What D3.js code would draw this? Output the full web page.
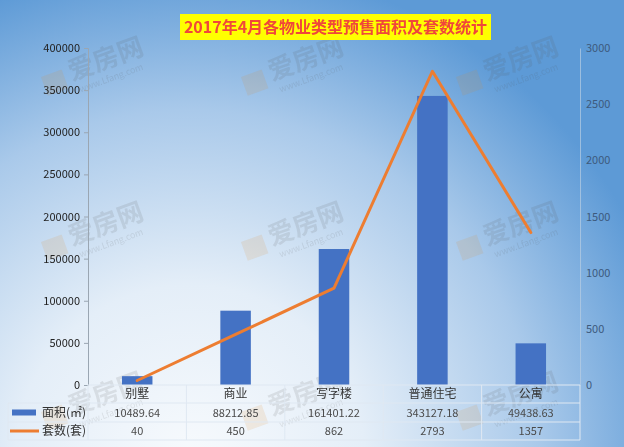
<!DOCTYPE html>
<html><head><meta charset="utf-8">
<script src="https://cdn.jsdelivr.net/npm/d3@7/dist/d3.min.js"></script>
<style>html,body{margin:0;padding:0;overflow:hidden;}svg{display:block;}</style>
</head><body>
<svg id="c" width="624" height="447"></svg>
<script>
const title = "2017年4月各物业类型预售面积及套数统计";
const categories = ["别墅", "商业", "写字楼", "普通住宅", "公寓"];
const areaValues = [10489.64, 88212.85, 161401.22, 343127.18, 49438.63];
const unitValues = [40, 450, 862, 2793, 1357];
const seriesNames = ["面积(㎡)", "套数(套)"];
const leftTicks = [0, 50000, 100000, 150000, 200000, 250000, 300000, 350000, 400000];
const rightTicks = [0, 500, 1000, 1500, 2000, 2500, 3000];

const W = 624, H = 447;
const m = {left: 88, right: 580, top: 48, bottom: 385};
const font = "'Noto Sans CJK SC', 'Microsoft YaHei', sans-serif";
const svg = d3.select("#c");

// background gradient
const defs = svg.append("defs");
const rg = defs.append("radialGradient").attr("id", "bg")
  .attr("gradientUnits", "userSpaceOnUse")
  .attr("cx", 190).attr("cy", 460).attr("r", 500);
rg.append("stop").attr("offset", "0").attr("stop-color", "#f7fafd");
rg.append("stop").attr("offset", "0.35").attr("stop-color", "#e4eef8");
rg.append("stop").attr("offset", "0.7").attr("stop-color", "#a9c9ea");
rg.append("stop").attr("offset", "1").attr("stop-color", "#5d9ad6");
svg.append("rect").attr("width", W).attr("height", H).attr("fill", "url(#bg)");

// watermarks
const wm = svg.append("g").attr("opacity", 0.13);
[[70, 75], [270, 75], [485, 75], [70, 240], [270, 240], [485, 240], [70, 410], [270, 410], [485, 410]].forEach(([x, y]) => {
  const g = wm.append("g").attr("transform", `translate(${x},${y}) rotate(-20)`);
  g.append("rect").attr("x", -28).attr("y", -8).attr("width", 22).attr("height", 20).attr("fill", "#e08a2a");
  g.append("text").attr("x", 0).attr("y", 6).attr("font-family", font).attr("font-size", 26)
    .attr("font-weight", "bold").attr("fill", "#555").text("爱房网");
  g.append("text").attr("x", 4).attr("y", 20).attr("font-family", font).attr("font-size", 9)
    .attr("fill", "#555").text("www.Lfang.com");
});

// scales
const x = d3.scaleBand().domain(categories).range([m.left, m.right]);
const yL = d3.scaleLinear().domain([0, 400000]).range([m.bottom, m.top]);
const yR = d3.scaleLinear().domain([0, 3000]).range([m.bottom, m.top]);

// left axis
const axL = d3.axisLeft(yL).tickValues(leftTicks).tickSize(4).tickPadding(4).tickFormat(d3.format("d"));
const gL = svg.append("g").attr("transform", `translate(${m.left},0)`).call(axL);
gL.select(".domain").attr("stroke", "#9aa6b2");
gL.selectAll(".tick line").attr("stroke", "#9aa6b2");
gL.selectAll("text").attr("font-family", font).attr("font-size", 11).attr("fill", "#222");

// right axis
const axR = d3.axisRight(yR).tickValues(rightTicks).tickSize(0).tickPadding(6).tickFormat(d3.format("d"));
const gR = svg.append("g").attr("transform", `translate(${m.right},0)`).call(axR);
gR.select(".domain").attr("stroke", "#b8cde2").attr("stroke-opacity", 0.7);
gR.selectAll("text").attr("font-family", font).attr("font-size", 11).attr("fill", "#3d5a7d");

// bars
const bw = x.bandwidth() * 0.31;
svg.append("g").selectAll("rect").data(categories).join("rect")
  .attr("x", (d) => x(d) + x.bandwidth() / 2 - bw / 2)
  .attr("y", (d, i) => yL(areaValues[i]))
  .attr("width", bw)
  .attr("height", (d, i) => yL(0) - yL(areaValues[i]))
  .attr("fill", "#4472c4");

// line
const line = d3.line().x((d, i) => x(categories[i]) + x.bandwidth() / 2).y((d) => yR(d));
svg.append("path").datum(unitValues).attr("d", line)
  .attr("fill", "none").attr("stroke", "#ed7d31").attr("stroke-width", 3)
  .attr("stroke-linejoin", "round").attr("stroke-linecap", "round");

// data table
const rows = [m.bottom, 403, 422, 440];
const tLeft = 8;
const tg = svg.append("g");
const gridColor = "#dfe8f2";
// horizontal lines
[1, 2, 3].forEach(k => {
  tg.append("line").attr("x1", tLeft).attr("x2", m.right).attr("y1", rows[k]).attr("y2", rows[k])
    .attr("stroke", gridColor).attr("stroke-width", 1);
});
tg.append("line").attr("x1", m.left).attr("x2", m.right).attr("y1", rows[0]).attr("y2", rows[0])
  .attr("stroke", gridColor).attr("stroke-width", 1);
// vertical lines
tg.append("line").attr("x1", tLeft).attr("x2", tLeft).attr("y1", rows[1]).attr("y2", rows[3]).attr("stroke", gridColor);
const colEdges = categories.map(c => x(c)).concat([x(categories[categories.length - 1]) + x.bandwidth()]);
colEdges.forEach((cx, i) => {
  tg.append("line").attr("x1", cx).attr("x2", cx).attr("y1", i === 0 ? rows[0] : rows[0]).attr("y2", rows[3])
    .attr("stroke", gridColor);
});
// category labels
tg.selectAll("text.cat").data(categories).join("text").attr("class", "cat")
  .attr("x", d => x(d) + x.bandwidth() / 2).attr("y", (rows[0] + rows[1]) / 2 + 4)
  .attr("text-anchor", "middle").attr("font-family", font).attr("font-size", 12).attr("fill", "#333")
  .text(d => d);
const fmtArea = d3.format(".2f");
tg.selectAll("text.area").data(areaValues).join("text").attr("class", "area")
  .attr("x", (d, i) => x(categories[i]) + x.bandwidth() / 2).attr("y", (rows[1] + rows[2]) / 2 + 4)
  .attr("text-anchor", "middle").attr("font-family", font).attr("font-size", 11).attr("fill", "#4a4a4a")
  .text(d => fmtArea(d));
tg.selectAll("text.unit").data(unitValues).join("text").attr("class", "unit")
  .attr("x", (d, i) => x(categories[i]) + x.bandwidth() / 2).attr("y", (rows[2] + rows[3]) / 2 + 4)
  .attr("text-anchor", "middle").attr("font-family", font).attr("font-size", 11).attr("fill", "#4a4a4a")
  .text(d => d);
// legend keys in table
tg.append("rect").attr("x", 12).attr("y", (rows[1] + rows[2]) / 2 - 3).attr("width", 24).attr("height", 6).attr("fill", "#4472c4");
tg.append("line").attr("x1", 10).attr("x2", 39).attr("y1", (rows[2] + rows[3]) / 2).attr("y2", (rows[2] + rows[3]) / 2)
  .attr("stroke", "#ed7d31").attr("stroke-width", 3);
tg.append("text").attr("x", 42).attr("y", (rows[1] + rows[2]) / 2 + 4).attr("font-family", font)
  .attr("font-size", 12).attr("fill", "#333").text(seriesNames[0]);
tg.append("text").attr("x", 42).attr("y", (rows[2] + rows[3]) / 2 + 4).attr("font-family", font)
  .attr("font-size", 12).attr("fill", "#333").text(seriesNames[1]);

// title
const tt = svg.append("g");
tt.append("rect").attr("x", 180).attr("y", 14).attr("width", 311).attr("height", 26).attr("fill", "#ffff00");
tt.append("text").attr("x", 335.5).attr("y", 33).attr("text-anchor", "middle")
  .attr("font-family", font).attr("font-size", 16).attr("font-weight", "bold").attr("fill", "#f0473a")
  .text(title);
</script>
</body></html>
